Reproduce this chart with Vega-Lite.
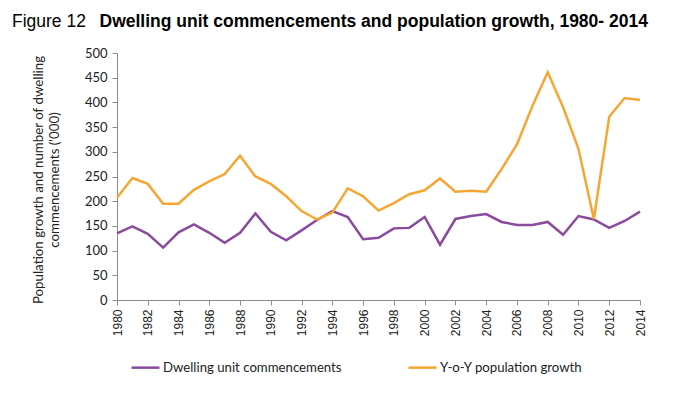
{
  "$schema": "https://vega.github.io/schema/vega-lite/v6.json",
  "width": 523,
  "height": 247,
  "autosize": {"type": "none"},
  "padding": {"left": 117, "top": 53, "right": 36, "bottom": 93},
  "background": "white",
  "title": {
    "text": "Figure 12",
    "subtitle": "\u200b\u00a0\u00a0\u00a0\u00a0\u00a0\u00a0\u00a0\u00a0\u00a0\u00a0\u00a0\u00a0\u00a0\u00a0\u00a0\u00a0\u00a0\u00a0Dwelling unit commencements and population growth, 1980- 2014",
    "anchor": "start",
    "frame": "group",
    "dx": -105,
    "offset": 17,
    "font": "Liberation Sans",
    "fontSize": 17.5,
    "fontWeight": "normal",
    "color": "black",
    "subtitleFont": "Liberation Sans",
    "subtitleFontSize": 17.5,
    "subtitleFontWeight": "bold",
    "subtitleColor": "black",
    "subtitlePadding": -17.5
  },
  "data": {
    "values": [
      {"year": 1980, "d": 135, "p": 207},
      {"year": 1981, "d": 149, "p": 247},
      {"year": 1982, "d": 134, "p": 235},
      {"year": 1983, "d": 106, "p": 195},
      {"year": 1984, "d": 137, "p": 195},
      {"year": 1985, "d": 153, "p": 223},
      {"year": 1986, "d": 136, "p": 240},
      {"year": 1987, "d": 116, "p": 255},
      {"year": 1988, "d": 136, "p": 292},
      {"year": 1989, "d": 175, "p": 250},
      {"year": 1990, "d": 138, "p": 235},
      {"year": 1991, "d": 121, "p": 210},
      {"year": 1992, "d": 141, "p": 180},
      {"year": 1993, "d": 162, "p": 163},
      {"year": 1994, "d": 180, "p": 177},
      {"year": 1995, "d": 168, "p": 226},
      {"year": 1996, "d": 123, "p": 210},
      {"year": 1997, "d": 126, "p": 181},
      {"year": 1998, "d": 145, "p": 196},
      {"year": 1999, "d": 146, "p": 214},
      {"year": 2000, "d": 168, "p": 222},
      {"year": 2001, "d": 112, "p": 246},
      {"year": 2002, "d": 164, "p": 219},
      {"year": 2003, "d": 170, "p": 221},
      {"year": 2004, "d": 174, "p": 219},
      {"year": 2005, "d": 158, "p": 265},
      {"year": 2006, "d": 152, "p": 315},
      {"year": 2007, "d": 152, "p": 392},
      {"year": 2008, "d": 158, "p": 461},
      {"year": 2009, "d": 132, "p": 390},
      {"year": 2010, "d": 170, "p": 306},
      {"year": 2011, "d": 163, "p": 164},
      {"year": 2012, "d": 146, "p": 371},
      {"year": 2013, "d": 160, "p": 409},
      {"year": 2014, "d": 179, "p": 405}
    ]
  },
  "transform": [
    {"fold": ["d", "p"], "as": ["key", "value"]},
    {"lookup": "key", "from": {"data": {"values": [
      {"key": "d", "series": "Dwelling unit commencements"},
      {"key": "p", "series": "Y-o-Y population growth"}
    ]}, "key": "key", "fields": ["series"]}}
  ],
  "mark": {"type": "line", "strokeWidth": 2.5, "strokeJoin": "miter"},
  "encoding": {
    "x": {
      "field": "year",
      "type": "quantitative",
      "scale": {"domain": [1980, 2014], "nice": false, "zero": false},
      "axis": {
        "title": null,
        "values": [1980, 1982, 1984, 1986, 1988, 1990, 1992, 1994, 1996, 1998, 2000, 2002, 2004, 2006, 2008, 2010, 2012, 2014],
        "format": "d",
        "labelAngle": 270,
        "labelAlign": "right",
        "labelBaseline": "middle",
        "labelFont": "Liberation Sans",
        "labelFontSize": 12,
        "labelColor": "#222222",
        "labelPadding": 4,
        "labelOverlap": false,
        "labelFlush": false,
        "domainColor": "#8c8c8c",
        "tickColor": "#8c8c8c",
        "tickSize": 5,
        "grid": false
      }
    },
    "y": {
      "field": "value",
      "type": "quantitative",
      "scale": {"domain": [0, 500], "nice": false},
      "axis": {
        "title": ["Population growth and number of dwelling", "commencements ('000)"],
        "titleFont": "Lato",
        "titleFontSize": 13.3,
        "titleFontWeight": "normal",
        "titleColor": "#222222",
        "titlePadding": 23,
        "titleLineHeight": 16,
        "titleY": 126.5,
        "values": [0, 50, 100, 150, 200, 250, 300, 350, 400, 450, 500],
        "labelFont": "Lato",
        "labelFontSize": 13,
        "labelColor": "#222222",
        "labelPadding": 5,
        "domainColor": "#8c8c8c",
        "tickColor": "#8c8c8c",
        "tickSize": 5,
        "grid": false
      }
    },
    "color": {
      "field": "series",
      "type": "nominal",
      "scale": {"domain": ["Dwelling unit commencements", "Y-o-Y population growth"], "range": ["#8a4a9e", "#f6a633"]},
      "legend": {
        "title": null,
        "orient": "none",
        "direction": "horizontal",
        "legendX": 13,
        "legendY": 299,
        "symbolType": "stroke",
        "symbolSize": 784,
        "symbolStrokeWidth": 2.5,
        "labelFont": "Lato",
        "labelFontSize": 13.2,
        "labelColor": "#222222",
        "labelOffset": 2,
        "labelLimit": 400,
        "columnPadding": 61
      }
    }
  },
  "config": {"view": {"stroke": null}}
}
